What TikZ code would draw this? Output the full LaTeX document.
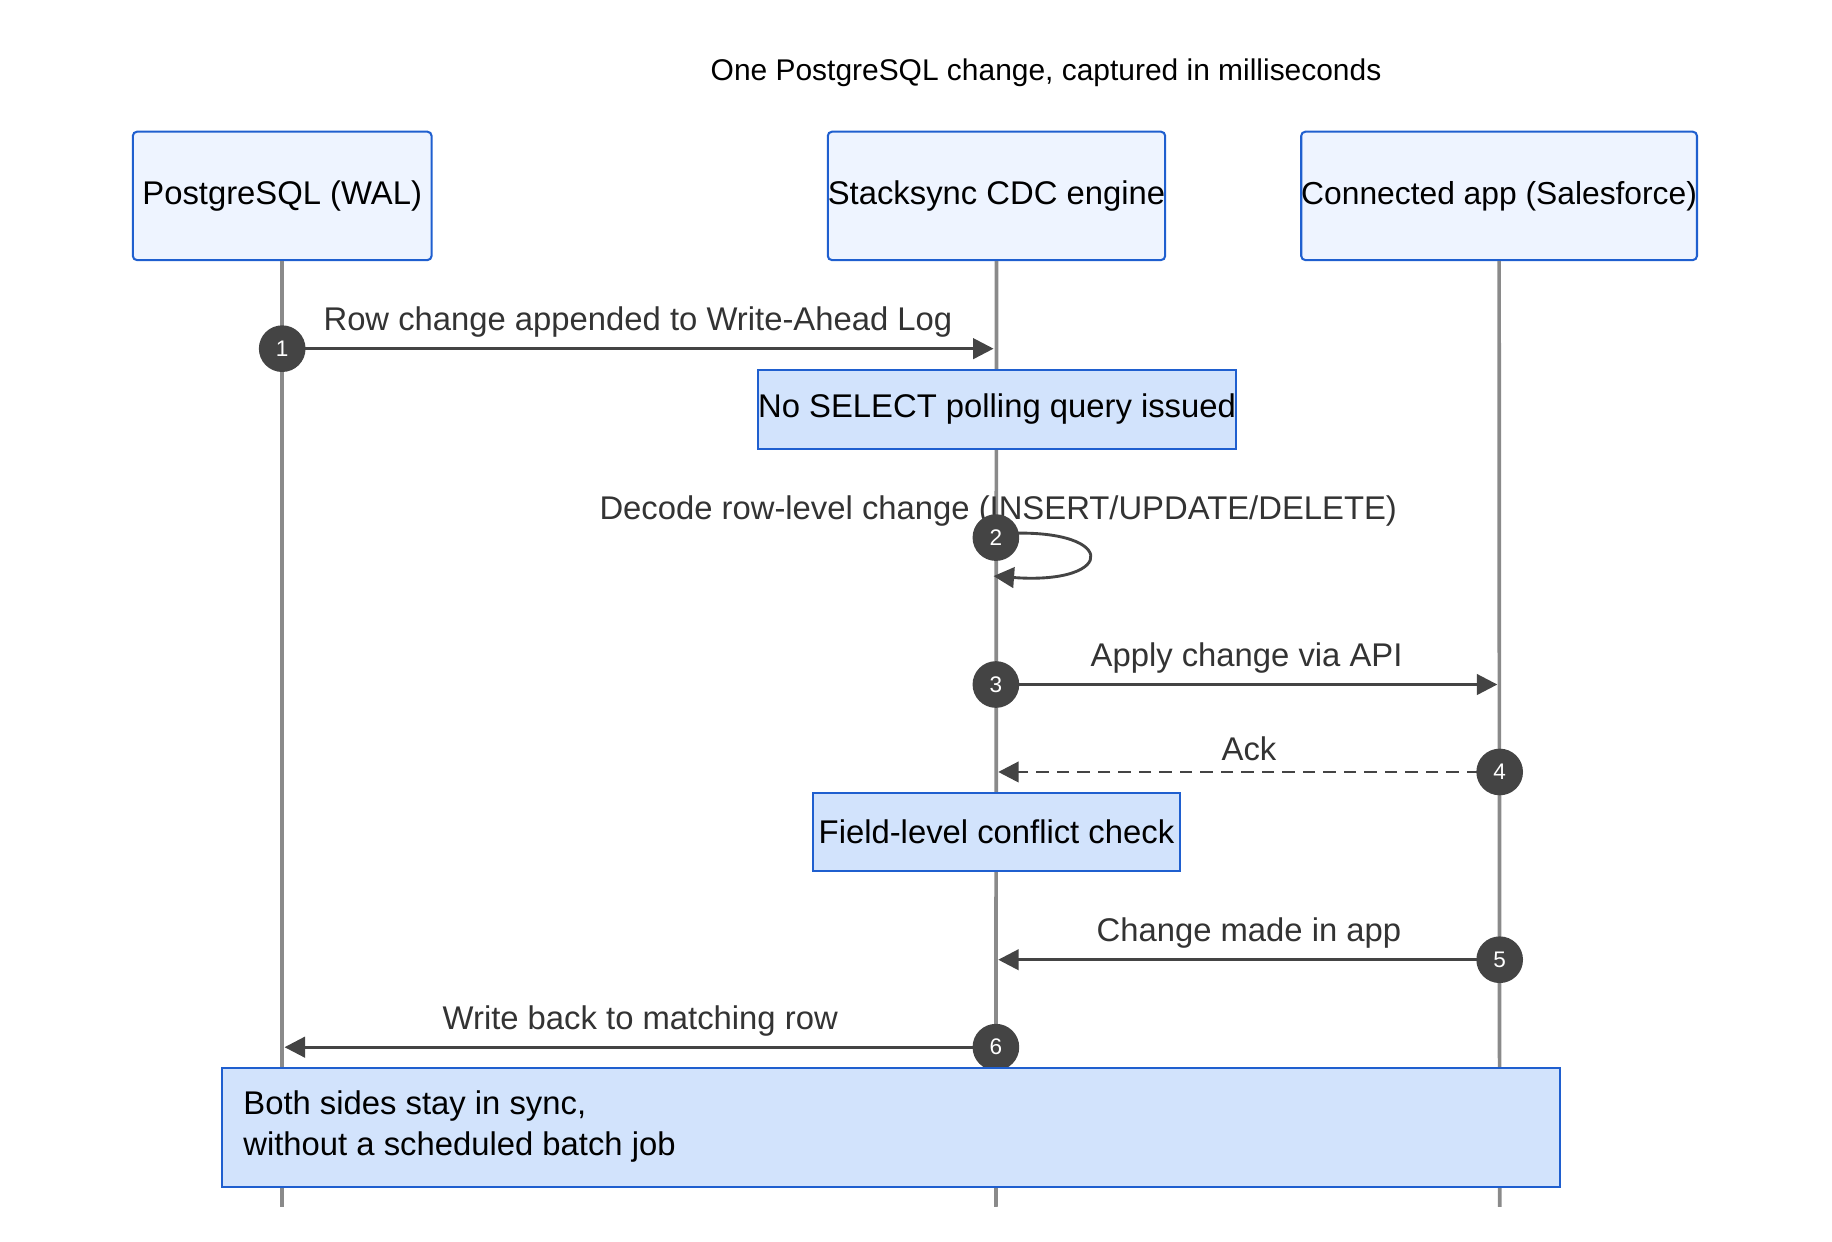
\documentclass[tikz,border=0pt]{standalone}
\usepackage{fontspec}
\setmainfont{Liberation Sans}
\usetikzlibrary{arrows.meta}
\definecolor{actfill}{HTML}{EEF4FF}
\definecolor{notefill}{HTML}{D2E3FC}
\definecolor{blueline}{HTML}{1F5FCF}
\definecolor{lifegray}{HTML}{8A8A8A}
\definecolor{msggray}{HTML}{444444}
\tikzset{
	actor/.style={draw=blueline, fill=actfill, line width=0.5pt, rounded corners=1pt, minimum height=1.1cm, inner sep=0pt},
	note/.style={draw=blueline, fill=notefill, line width=0.5pt, inner sep=0pt},
	life/.style={lifegray, line width=0.9pt},
	msg/.style={msggray, line width=0.7pt, -{Triangle[length=5pt,width=5pt]}},
	num/.style={circle, fill=msggray, text=white, minimum size=0.4cm, inner sep=0pt, font=\fontsize{5.5}{7}\selectfont},
	lbl/.style={text=black!80, font=\fontsize{8}{10}\selectfont}
}
\begin{document}
\begin{tikzpicture}[x=0.01cm, y=-0.01cm, font=\fontsize{8}{10}\selectfont]
		\useasboundingbox (0,0) rectangle (1571,1065);
		\node[font=\fontsize{7.3}{9}\selectfont] at (897,62) {One PostgreSQL change, captured in milliseconds};

		% participants
		\node[actor, minimum width=2.56cm] (pg) at (242,168) {PostgreSQL (WAL)};
		\node[actor, minimum width=2.87cm] (cdc) at (854.5,168) {Stacksync CDC engine};
		\node[actor, minimum width=3.37cm, font=\fontsize{7.75}{10}\selectfont] (app) at (1285.5,168) {Connected app (Salesforce)};

		\coordinate (pgEnd) at (242,1035);
		\coordinate (cdcEnd) at (854,1035);
		\coordinate (appEnd) at (1286,1035);
		\draw[life] (pg.south) -- (pgEnd);
		\draw[life] (cdc.south) -- (cdcEnd);
		\draw[life] (app.south) -- (appEnd);

		% messages
		\coordinate (m1a) at (242,299); \coordinate (m1b) at (852,299);
		\draw[msg] (m1a) -- (m1b) node[lbl, above=-1pt, midway]{Row change appended to Write-Ahead Log};
		\node[num] at (m1a) {1};

		\node[note, minimum width=4.04cm, minimum height=0.68cm] (n1) at (855,351) {No SELECT polling query issued};

		\node[lbl] at (856,438) {Decode row-level change (INSERT/UPDATE/DELETE)};
		\coordinate (m2a) at (854,458); \coordinate (m2b) at (852,494);
		\draw[msg] (m2a) .. controls (960,450) and (960,502) .. (m2b);
		\node[num] at (854,461) {2};

		\coordinate (m3a) at (854,587); \coordinate (m3b) at (1284,587);
		\draw[msg] (m3a) -- (m3b) node[lbl, above=-1pt, midway]{Apply change via API};
		\node[num] at (m3a) {3};

		\coordinate (m4a) at (1286,662); \coordinate (m4b) at (856,662);
		\draw[msg, dashed, dash pattern=on 3pt off 2pt] (m4a) -- (m4b) node[lbl, above=-1pt, midway]{Ack};
		\node[num] at (m4a) {4};

		\node[note, minimum width=3.15cm, minimum height=0.67cm] (n2) at (854.5,713.5) {Field-level conflict check};

		\coordinate (m5a) at (1286,823); \coordinate (m5b) at (856,823);
		\draw[msg] (m5a) -- (m5b) node[lbl, above=-1pt, midway]{Change made in app};
		\node[num] at (m5a) {5};

		\coordinate (m6a) at (854,898); \coordinate (m6b) at (244,898);
		\draw[msg] (m6a) -- (m6b) node[lbl, above=-1pt, midway]{Write back to matching row};
		\node[num] at (m6a) {6};

		\node[note, minimum width=11.46cm, minimum height=1.02cm] (n3) at (764,967) {};
		\node[anchor=west, align=left, inner sep=0pt] at (208,966) {Both sides stay in sync,\\without a scheduled batch job};
	\end{tikzpicture}
\end{document}
